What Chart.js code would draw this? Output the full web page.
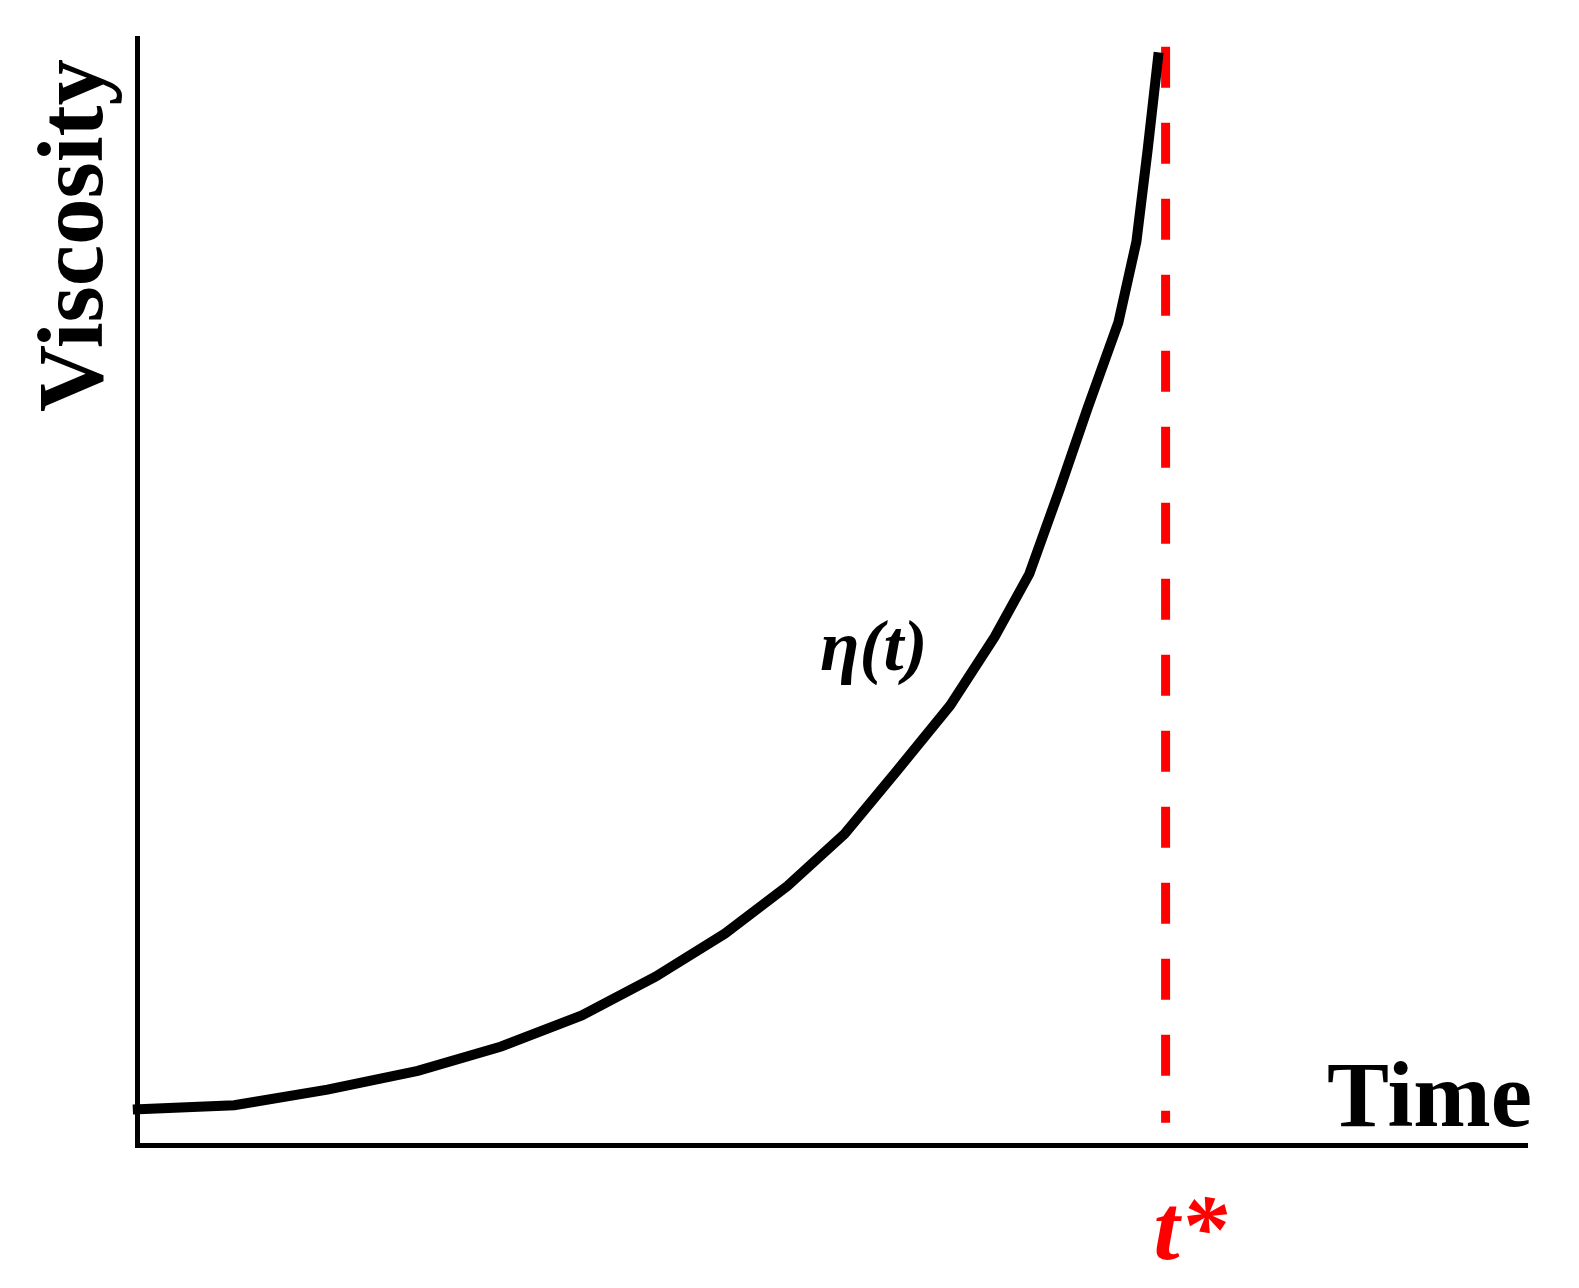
<!DOCTYPE html>
<html>
<head>
<meta charset="utf-8">
<script src="https://cdn.jsdelivr.net/npm/chart.js@4.4.1/dist/chart.umd.min.js"></script>
<style>
  body { margin: 0; background: #fff; }
  canvas { display: block; }
</style>
</head>
<body>
<canvas id="viscChart" width="1579" height="1288"></canvas>
<script>
// viscosity curve, arbitrary units (time 0..10, viscosity 0..10)
const time = [-0.03, 0.70, 1.37, 2.02, 2.62, 3.20, 3.73, 4.23, 4.68, 5.09, 5.46, 5.85, 6.17, 6.42, 6.64, 6.84, 7.06, 7.19, 7.27, 7.35];
const viscosity = [0.32, 0.36, 0.50, 0.67, 0.89, 1.17, 1.52, 1.91, 2.34, 2.81, 3.37, 3.97, 4.59, 5.16, 5.93, 6.66, 7.43, 8.16, 8.98, 9.87];

// gel time marker
const tStar = 7.40;
const tStarRange = [9.92, 0.20];

// draw text at a base size of 80px and scale it, so the serif face is picked reliably
function drawLabel(c, text, x, y, size, style, align, color, angle) {
    c.save();
    c.translate(x, y);
    if (angle) c.rotate(angle);
    const s = size / 80;
    c.scale(s, s);
    c.font = style + ' 80px "Liberation Serif"';
    c.fillStyle = color;
    c.textAlign = align;
    c.textBaseline = 'alphabetic';
    c.fillText(text, 0, 0);
    c.restore();
}

const labelsPlugin = {
    id: 'labels',
    afterDraw(chart) {
        const c = chart.ctx;
        const xs = chart.scales.x;
        drawLabel(c, 'Viscosity', 102, 412, 93, 'bold', 'left', '#000000', -Math.PI / 2);
        drawLabel(c, 'Time', 1532, 1126, 93, 'bold', 'right', '#000000');
        drawLabel(c, '\u03B7(t)', 820, 670, 72, 'bold italic', 'left', '#000000');
        drawLabel(c, 't*', xs.getPixelForValue(tStar) - 12, 1259, 94, 'bold italic', 'left', '#ff0000');
    }
};

const ctx = document.getElementById('viscChart').getContext('2d');
const viscChart = new Chart(ctx, {
    type: 'line',
    data: {
        datasets: [
            {
                label: 'eta',
                data: time.map((t, i) => ({ x: t, y: viscosity[i] })),
                borderColor: '#000000',
                borderWidth: 10,
                tension: 0,
                pointRadius: 0,
                borderCapStyle: 'butt',
                clip: false
            },
            {
                label: 't*',
                data: tStarRange.map(v => ({ x: tStar, y: v })),
                borderColor: '#ff0000',
                borderWidth: 9,
                borderDash: [41, 35],
                pointRadius: 0,
                clip: false
            }
        ]
    },
    options: {
        responsive: false,
        animation: false,
        layout: {
            padding: { left: 137, top: 38, right: 52, bottom: 143 }
        },
        plugins: {
            legend: { display: false },
            tooltip: { enabled: false }
        },
        scales: {
            x: {
                type: 'linear',
                min: 0,
                max: 10,
                grid: { display: false, drawTicks: false },
                ticks: { display: false },
                border: { display: true, color: '#000000', width: 5 }
            },
            y: {
                type: 'linear',
                min: 0,
                max: 10,
                grid: { display: false, drawTicks: false },
                ticks: { display: false },
                border: { display: true, color: '#000000', width: 5 }
            }
        }
    },
    plugins: [labelsPlugin]
});
</script>
</body>
</html>
